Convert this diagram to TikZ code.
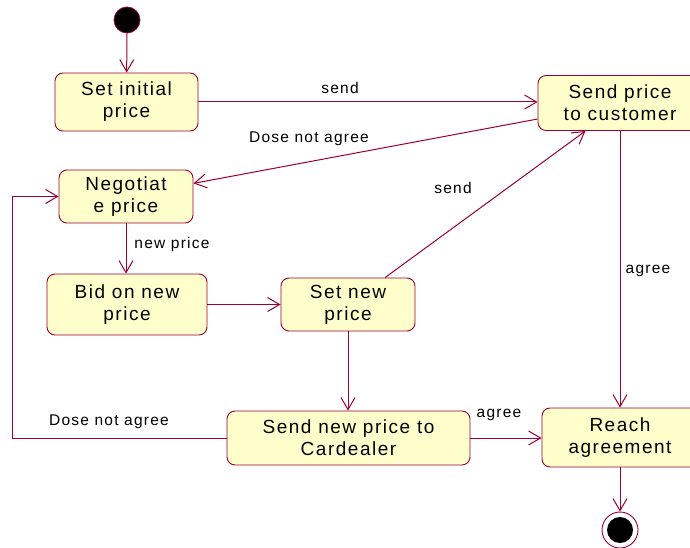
\documentclass[tikz,border=0pt]{standalone}
\usepackage{fontspec}
\setmainfont{Liberation Sans}[LetterSpace=8]
\usetikzlibrary{arrows.meta}
\definecolor{umlline}{HTML}{990033}
\definecolor{umlfill}{HTML}{FFFFCC}
\begin{document}
\begin{tikzpicture}[x=1pt,y=-1pt,
  state/.style={draw=umlline,fill=umlfill,rounded corners=8pt,line width=0.9pt,
    align=center,inner sep=0pt,font=\fontsize{19}{22}\selectfont},
  trans/.style={draw=umlline,line width=1pt,-{Straight Barb[length=12pt,width=14pt,line width=1pt]}},
  lbl/.style={font=\fontsize{15.5}{18}\selectfont,inner sep=0pt}]
\useasboundingbox (0,0) rectangle (690,548);
\clip (0,0) rectangle (690,548);

% states
\node[circle,fill=black,draw=umlline,line width=0.8pt,minimum size=26pt,inner sep=0pt] (start) at (127,20) {};
\node[state,minimum width=143pt,minimum height=58pt] (sip) at (126.5,102) {Set initial\\price};
\node[state,minimum width=164pt,minimum height=55pt] (spc) at (620,103) {Send price\\to customer};
\node[state,minimum width=134pt,minimum height=53pt] (neg) at (126,196.5) {Negotiat\\e price};
\node[state,minimum width=160pt,minimum height=61pt] (bid) at (127,304.5) {Bid on new\\price};
\node[state,minimum width=134pt,minimum height=53pt] (snp) at (348,304.5) {Set new\\price};
\node[state,minimum width=243pt,minimum height=54pt] (cd) at (348.5,438) {Send new price to\\Cardealer};
\node[state,minimum width=156pt,minimum height=59pt] (reach) at (620,437.5) {Reach\\agreement};
\node[circle,draw=umlline,fill=white,line width=0.9pt,minimum size=36pt,inner sep=0pt] (end) at (620,530) {};
\node[circle,fill=black,minimum size=26pt,inner sep=0pt] (endin) at (end.center) {};
\coordinate (loop) at (12,300);

% transitions
\draw[trans] (start) -- (sip);
\draw[trans] (sip.east) -- (sip.east -| spc.west);
\draw[trans] (spc.191) -- (neg.11);
\draw[trans] (neg.south) -- (neg.south |- bid.north);
\draw[trans] (bid.east) -- (bid.east -| snp.west);
\draw[trans] (snp.36) -- (spc.219);
\draw[trans] (spc.south) -- (reach.north);
\draw[trans] (snp.south) -- (snp.south |- cd.north);
\draw[trans] (cd.east) -- (cd.east -| reach.west);
\draw[trans] (cd.west) -- (cd.west -| loop) |- (neg.west);
\draw[trans] (reach.south) -- (end);

% labels
\node[lbl] (l1) at (340,88) {send};
\node[lbl] (l2) at (309,139) {Dose not agree};
\node[lbl] (l3) at (172,244) {new price};
\node[lbl] (l4) at (453,188) {send};
\node[lbl] (l5) at (648,271) {agree};
\node[lbl] (l6) at (499,415) {agree};
\node[lbl] (l7) at (109,422) {Dose not agree};
\end{tikzpicture}
\end{document}
